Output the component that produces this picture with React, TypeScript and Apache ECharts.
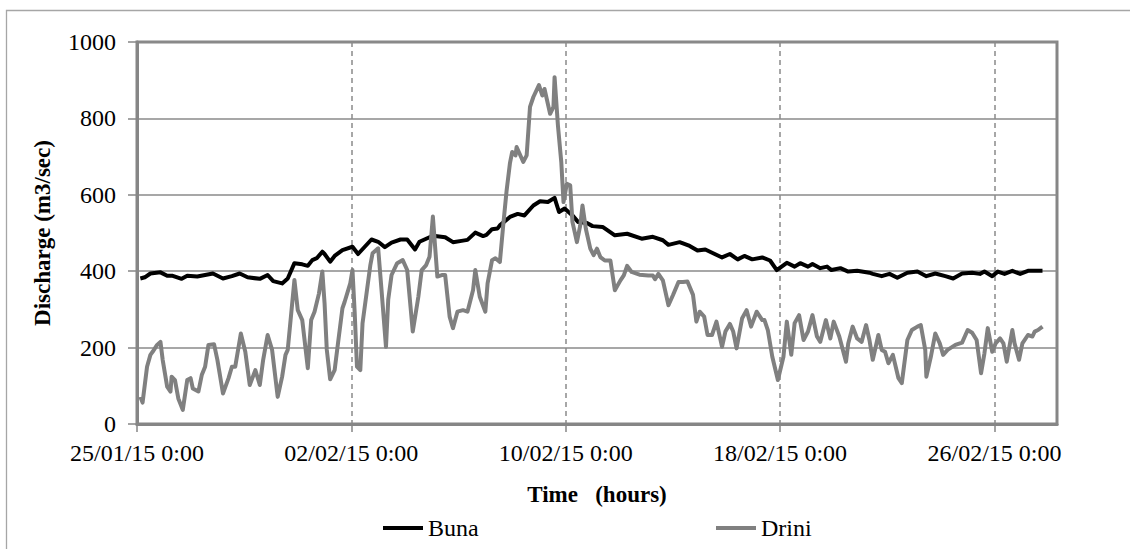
import React, { useEffect, useRef, useState } from "react";
import * as echarts from "echarts";

// x = hours since 25/01/15 0:00, y = discharge (m3/sec)
const xTickHours = [0, 192, 384, 576, 768];
const xTickLabels = ["25/01/15 0:00", "02/02/15 0:00", "10/02/15 0:00", "18/02/15 0:00", "26/02/15 0:00"];
const xMaxHours = 824;
const yTicks = [0, 200, 400, 600, 800, 1000];

const seriesNames = ["Buna", "Drini"];

const bunaPoints: [number, number][] = [
  [3, 381], [7, 384], [12, 394], [21, 397], [27, 388], [32, 388], [40, 380], [45, 388], [54, 386], [61, 390],
  [68, 394], [77, 381], [85, 387], [92, 394], [99, 384], [110, 380], [117, 390], [122, 374], [130, 368], [135, 381],
  [141, 421], [148, 418], [153, 414], [157, 429], [161, 434], [166, 451], [168, 445], [173, 425], [177, 440], [184, 455],
  [193, 464], [198, 445], [204, 464], [210, 483], [216, 477], [222, 463], [228, 475], [236, 483], [242, 483], [249, 457],
  [253, 477], [262, 489], [267, 492], [276, 489], [283, 476], [292, 480], [296, 482], [303, 501], [310, 492], [313, 495],
  [318, 510], [323, 512], [325, 520], [334, 542], [341, 550], [347, 546], [355, 572], [361, 583], [368, 581], [374, 592],
  [378, 555], [383, 564], [390, 546], [395, 529], [403, 526], [408, 518], [417, 516], [428, 494], [439, 498], [452, 485],
  [462, 490], [471, 481], [476, 469], [486, 476], [495, 466], [502, 454], [509, 457], [516, 447], [524, 436], [531, 445],
  [538, 431], [544, 440], [551, 431], [560, 436], [567, 428], [573, 403], [582, 422], [589, 412], [594, 421], [601, 412],
  [605, 419], [612, 408], [618, 412], [622, 403], [630, 408], [637, 399], [645, 401], [656, 396], [659, 393], [667, 387],
  [674, 393], [681, 383], [690, 396], [699, 399], [707, 387], [715, 394], [724, 387], [731, 381], [739, 394], [748, 396],
  [755, 393], [759, 399], [766, 387], [771, 399], [777, 393], [784, 401], [791, 393], [798, 401], [811, 401],
];

const driniPoints: [number, number][] = [
  [3, 71], [5, 56], [9, 150], [12, 181], [14, 189], [18, 207], [21, 215], [23, 168], [27, 98], [30, 85],
  [31, 124], [34, 115], [37, 67], [41, 37], [45, 115], [48, 120], [50, 93], [55, 85], [58, 128], [61, 150],
  [64, 207], [69, 209], [72, 168], [77, 80], [82, 120], [85, 150], [88, 150], [93, 237], [97, 189], [101, 102],
  [106, 141], [110, 102], [113, 168], [117, 233], [121, 194], [126, 71], [130, 124], [133, 181], [135, 194], [141, 377],
  [144, 298], [148, 272], [153, 146], [156, 272], [159, 294], [163, 342], [166, 399], [168, 316], [170, 194], [173, 117],
  [177, 141], [180, 211], [184, 303], [186, 320], [191, 368], [193, 403], [195, 290], [197, 150], [200, 141], [202, 264],
  [206, 351], [209, 416], [211, 447], [216, 460], [219, 351], [223, 202], [225, 325], [228, 390], [233, 421], [238, 429],
  [242, 403], [247, 242], [252, 333], [255, 403], [259, 416], [262, 438], [265, 543], [269, 386], [273, 390], [276, 390],
  [280, 281], [283, 251], [287, 294], [292, 298], [296, 294], [301, 351], [303, 403], [307, 333], [312, 294], [314, 368],
  [318, 429], [321, 434], [325, 424], [328, 520], [331, 610], [334, 682], [336, 712], [339, 703], [340, 725], [346, 686],
  [349, 703], [352, 830], [355, 856], [360, 887], [363, 860], [365, 877], [370, 812], [373, 830], [374, 908], [377, 782],
  [380, 686], [382, 581], [385, 629], [388, 625], [390, 529], [394, 476], [397, 520], [399, 572], [402, 511], [406, 459],
  [409, 442], [412, 459], [415, 437], [419, 428], [424, 428], [428, 350], [433, 376], [436, 389], [439, 414], [443, 398],
  [450, 391], [458, 389], [462, 389], [464, 379], [467, 393], [471, 376], [476, 311], [480, 337], [485, 372], [489, 372],
  [493, 373], [498, 338], [501, 268], [504, 294], [508, 281], [511, 233], [515, 233], [519, 268], [524, 202], [527, 242],
  [531, 262], [534, 242], [537, 198], [542, 277], [546, 298], [550, 255], [555, 294], [560, 272], [562, 272], [565, 246],
  [569, 176], [574, 115], [579, 176], [582, 268], [586, 181], [589, 264], [593, 285], [597, 220], [601, 242], [605, 285],
  [609, 229], [612, 215], [617, 272], [621, 224], [624, 268], [629, 229], [635, 163], [637, 211], [641, 255], [645, 224],
  [649, 215], [653, 259], [656, 220], [659, 168], [664, 233], [667, 194], [670, 189], [673, 159], [677, 181], [682, 120],
  [685, 107], [690, 220], [694, 246], [699, 255], [702, 259], [706, 194], [707, 124], [711, 176], [715, 237], [719, 211],
  [722, 181], [726, 194], [733, 207], [739, 213], [744, 246], [748, 239], [752, 220], [756, 133], [759, 185], [762, 251],
  [766, 189], [769, 211], [773, 224], [776, 211], [779, 163], [784, 246], [786, 211], [790, 168], [793, 211], [798, 233],
  [802, 229], [804, 242], [807, 246], [811, 255],
];

const FONT = "Liberation Serif";
const GRID_GRAY = "#8a8a8a";

export default function App() {
  const ref = useRef<HTMLDivElement>(null);
  const [textCount, setTextCount] = useState(0);

  useEffect(() => {
    if (!ref.current) return;
    const chart = echarts.init(ref.current, undefined, { renderer: "svg" });
    const option: any = {
      animation: false,
      backgroundColor: "#ffffff",
      grid: {
        left: 137, right: 73, top: 42, bottom: 125,
        containLabel: false, outerBoundsMode: "none",
        show: true, borderColor: "#868686", borderWidth: 3, backgroundColor: "transparent",
      },
      xAxis: {
        type: "value", min: 0, max: xMaxHours,
        name: "Time   (hours)", nameLocation: "middle", nameGap: 70,
        nameTextStyle: { fontFamily: FONT, fontSize: 23, fontWeight: "bold", color: "#000", verticalAlign: "middle" },
        axisLine: { show: true, lineStyle: { color: "#868686", width: 3 } },
        axisTick: { show: true, length: 8, customValues: xTickHours, lineStyle: { color: "#868686", width: 1.5 } },
        axisLabel: {
          customValues: xTickHours, margin: 17, fontFamily: FONT, fontSize: 24, color: "#000",
          formatter: (v: number) => {
            const i = xTickHours.indexOf(Math.round(v));
            return i >= 0 ? xTickLabels[i] : "";
          },
        },
        splitLine: { show: true, lineStyle: { color: GRID_GRAY, width: 1.5, type: [5, 4] } },
      },
      yAxis: {
        type: "value", min: yTicks[0], max: yTicks[yTicks.length - 1], interval: 200,
        name: "Discharge (m3/sec)", nameLocation: "middle", nameGap: 95, nameRotate: 90,
        nameTextStyle: { fontFamily: FONT, fontSize: 23, fontWeight: "bold", color: "#000", verticalAlign: "middle" },
        axisLine: { show: true, lineStyle: { color: "#868686", width: 3 } },
        axisTick: { show: true, length: 9, lineStyle: { color: "#868686", width: 1.5 } },
        axisLabel: { margin: 21, fontFamily: FONT, fontSize: 24, color: "#000", formatter: (v: number) => String(v) },
        splitLine: { show: true, lineStyle: { color: GRID_GRAY, width: 1.5, type: "solid" } },
      },
      legend: [
        { data: [seriesNames[0]], left: 378, top: 511, icon: "rect", itemWidth: 40, itemHeight: 4, textStyle: { fontFamily: FONT, fontSize: 24, color: "#000" } },
        { data: [seriesNames[1]], left: 711, top: 511, icon: "rect", itemWidth: 40, itemHeight: 4, textStyle: { fontFamily: FONT, fontSize: 24, color: "#000" } },
      ],
      graphic: [
        { type: "rect", silent: true, shape: { x: 6.5, y: 10.5, width: 1300, height: 700 }, style: { fill: "none", stroke: "#a6a6a6", lineWidth: 1.3 } },
      ],
      series: [
        { name: seriesNames[0], type: "line", data: bunaPoints, symbol: "none", color: "#000000", lineStyle: { color: "#000000", width: 4, join: "round" }, z: 3 },
        { name: seriesNames[1], type: "line", data: driniPoints, symbol: "none", color: "#808080", lineStyle: { color: "#808080", width: 4, join: "round" }, z: 4 },
      ],
    };
    chart.setOption(option);
    setTextCount(ref.current.querySelectorAll("text").length);
    return () => chart.dispose();
  }, []);

  return (
    <div>
      <div ref={ref} style={{ position: "fixed", left: 0, top: 0, width: 1130, height: 549, background: "#fff" }} />
      <div style={{ display: "none" }} data-texts={textCount} />
    </div>
  );
}
